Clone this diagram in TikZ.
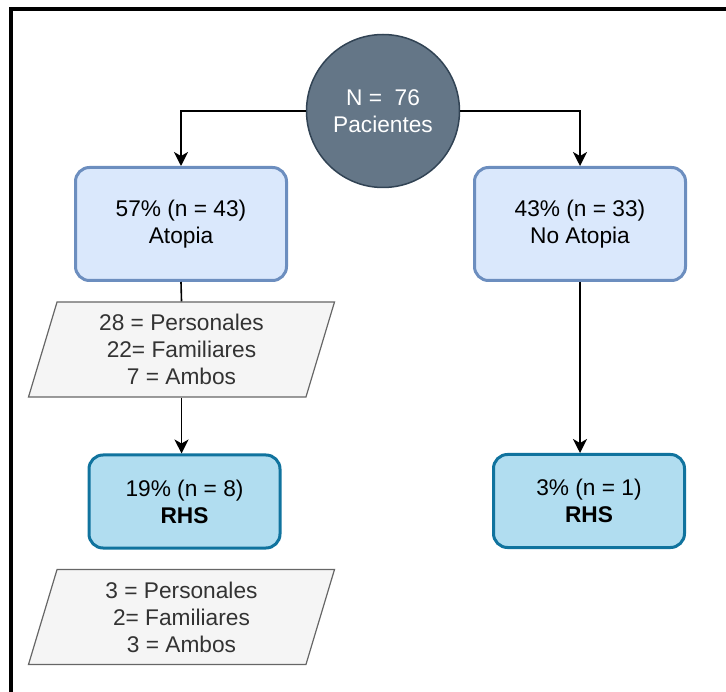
\documentclass[tikz,border=0pt]{standalone}
\usepackage{fontspec}
\setmainfont{Liberation Sans}
\usetikzlibrary{shapes.geometric,arrows.meta}
\definecolor{circfill}{HTML}{647687}
\definecolor{circline}{HTML}{314354}
\definecolor{boxfill}{HTML}{DAE8FC}
\definecolor{boxline}{HTML}{6C8EBF}
\definecolor{rhsfill}{HTML}{B1DDF0}
\definecolor{rhsline}{HTML}{10739E}
\definecolor{listfill}{HTML}{F5F5F5}
\definecolor{listline}{HTML}{666666}
\definecolor{listtext}{HTML}{333333}
\tikzstyle{every node}=[font=\fontsize{22.7}{27}\selectfont, align=center, inner sep=0pt]
\tikzstyle{total}=[circle, draw=circline, fill=circfill, text=white, line width=1.5pt, minimum size=153pt]
\tikzstyle{group}=[rectangle, rounded corners=14pt, draw=boxline, fill=boxfill, line width=3pt, minimum width=211pt, minimum height=113pt]
\tikzstyle{rhs}=[rectangle, rounded corners=14pt, draw=rhsline, fill=rhsfill, line width=3pt, minimum width=191pt, minimum height=93pt]
\tikzstyle{causes}=[trapezium, trapezium left angle=68, trapezium right angle=112, trapezium stretches body, draw=listline, fill=listfill, text=listtext, line width=1.2pt, minimum width=306pt, minimum height=95pt]

\begin{document}
\begin{tikzpicture}[x=1pt, y=-1pt, >={Stealth[length=14pt, width=14pt, inset=4pt]}, line width=1.6pt]
\useasboundingbox (0,0) rectangle (726,692);
% Frame
	\draw[line width=4pt] (11,720) -- (11,9) -- (760,9);
% Patients
	\node[total] (pac) at (383,111) {N = \ 76\\Pacientes};
% Groups
	\node[group] (atopia) at (181,224) {57\% (n = 43)\\Atopia};
	\node[group] (noatopia) at (580,224) {43\% (n = 33)\\No Atopia};
% Family history
	\node[causes] (hist1) at (181.5,349.5) {28 = Personales\\22= Familiares\\7 = Ambos};
	\node[causes] (hist2) at (181.5,617) {3 = Personales\\2= Familiares\\3 = Ambos};
% RHS
	\node[rhs] (rhs1) at (184.5,501.5) {19\% (n = 8)\\\textbf{RHS}};
	\node[rhs] (rhs2) at (589,501) {3\% (n = 1)\\\textbf{RHS}};
% Arrows
	\draw[->] (pac.west) -| (atopia.north);
	\draw[->] (pac.east) -| (noatopia.north);
	\draw (atopia.south) -- (hist1.north);
	\draw[->] (hist1.south) -- (hist1.south |- rhs1.north);
	\draw[->] (noatopia.south) -- (noatopia.south |- rhs2.north);
\end{tikzpicture}
\end{document}
